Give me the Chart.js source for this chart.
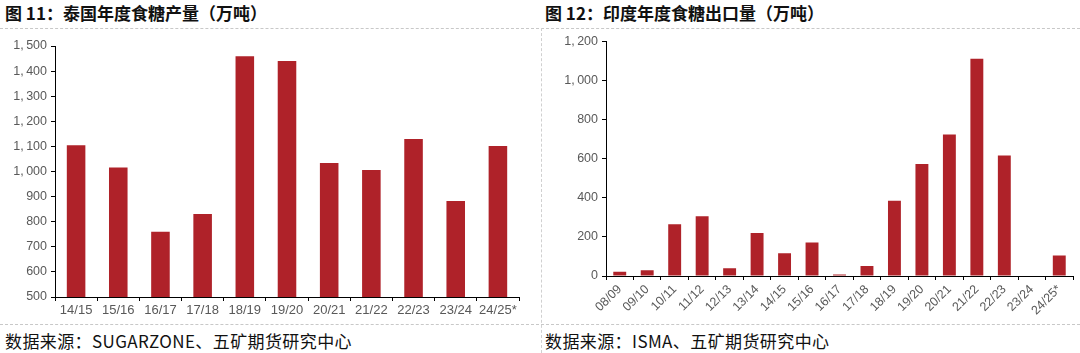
<!DOCTYPE html>
<html><head><meta charset="utf-8">
<script src="https://cdn.jsdelivr.net/npm/chart.js@4"></script>
<style>
body{margin:0;width:1080px;height:353px;background:#fff;position:relative;overflow:hidden;font-family:"Noto Sans CJK SC",sans-serif;}
.title{position:absolute;top:0px;font-weight:bold;font-size:17px;color:#111;white-space:nowrap;}
.src{position:absolute;top:328px;font-size:17px;color:#111;white-space:nowrap;letter-spacing:0.4px;}
.hl{position:absolute;left:0;width:1080px;height:0;border-top:1px dashed #c8c8c8;}
.vl{position:absolute;left:541px;top:28px;height:325px;width:0;border-left:1px dashed #d0d0d0;}
.box{position:absolute;top:30px;height:295px;}
</style></head>
<body>
<div class="title" style="left:5px">图 11：泰国年度食糖产量（万吨）</div>
<div class="title" style="left:545px">图 12：印度年度食糖出口量（万吨）</div>
<div class="hl" style="top:28px"></div>
<div class="hl" style="top:324px"></div>
<div class="vl"></div>
<div class="box" style="left:0;width:535px"><canvas id="c1"></canvas></div>
<div class="box" style="left:540px;width:540px"><canvas id="c2"></canvas></div>
<div class="src" style="left:5px">数据来源：SUGARZONE、五矿期货研究中心</div>
<div class="src" style="left:545px">数据来源：ISMA、五矿期货研究中心</div>
<script>
const thaiSeasons = ["14/15","15/16","16/17","17/18","18/19","19/20","20/21","21/22","22/23","23/24","24/25*"];
const thaiProduction = [1105,1016,760,831,1459,1440,1034,1006,1129,882,1102];
const indiaSeasons = ["08/09","09/10","10/11","11/12","12/13","13/14","14/15","15/16","16/17","17/18","18/19","19/20","20/21","21/22","22/23","23/24","24/25*"];
const indiaExports = [22,30,265,306,40,220,117,172,8,51,385,573,724,1112,617,0,105];

const BAR = "#AF2229";
const TICKC = "#595959";

function fmt(v){ return v.toLocaleString("en-US").replace(",", ",\u2009"); }

function makeChart(id, labels, data, opt){
  return new Chart(document.getElementById(id), {
    type:"bar",
    data:{labels:labels, datasets:[{data:data, backgroundColor:BAR, borderWidth:0,
      barPercentage:opt.barPct, categoryPercentage:1}]},
    options:{
      responsive:true, maintainAspectRatio:false, animation:false,
      layout:{padding:opt.padding},
      plugins:{legend:{display:false}, tooltip:{enabled:false}},
      scales:{
        x:{
          grid:{display:true, drawOnChartArea:false, drawTicks:true, tickLength:4, color:"#000", offset:true},
          border:{display:true, color:"#000", width:1},
          ticks:{color:TICKC, font:{family:"Liberation Sans", size:opt.xfs}, autoSkip:false, maxRotation:opt.rot, minRotation:opt.rot, padding:2},
          afterFit:(s)=>{s.height=opt.xh;}
        },
        y:{
          min:opt.min, max:opt.max,
          grid:{display:true, drawOnChartArea:false, drawTicks:true, tickLength:4, color:"#000"},
          border:{display:true, color:"#000", width:1},
          ticks:{stepSize:opt.step, color:TICKC, font:{family:"Liberation Sans", size:12.5}, padding:4,
            callback:(v)=>fmt(v)},
          afterFit:(s)=>{s.width=opt.yw;}
        }
      }
    }
  });
}

makeChart("c1", thaiSeasons, thaiProduction, {barPct:0.44, padding:{top:16,right:16,left:0,bottom:0}, xh:28, yw:55, min:500, max:1500, step:100, rot:0, xfs:13});
makeChart("c2", indiaSeasons, indiaExports, {barPct:0.47, padding:{top:9,right:7,left:0,bottom:0}, xh:49, yw:66, min:0, max:1200, step:200, rot:45, xfs:12.5});
</script>
</body></html>
